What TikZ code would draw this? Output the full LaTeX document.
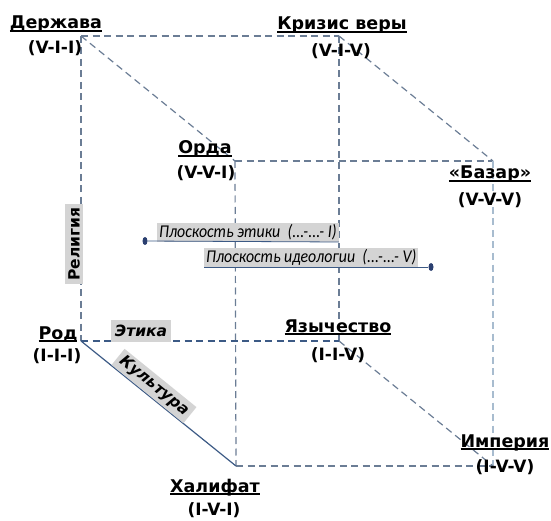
\documentclass[tikz,border=0pt]{standalone}
\usepackage{fontspec}
\usetikzlibrary{shapes.geometric}
\setmainfont{DejaVu Sans}
\newfontfamily\planefont[FakeStretch=0.88]{Carlito}
\newcommand\myul[1]{\setbox0\hbox{#1}\rlap{\rule[-2.8pt]{\wd0}{1.5pt}}\box0}
\definecolor{edgegray}{HTML}{6B7D95}
\definecolor{edgedark}{HTML}{3C5A85}
\definecolor{edgelight}{HTML}{A8BCCF}
\definecolor{boxgray}{HTML}{D4D4D4}
\definecolor{dotblue}{HTML}{2B3F70}
\begin{document}
\begin{tikzpicture}[x=1pt,y=-1pt,
  edge/.style={draw=edgegray,line width=1.2pt,dash pattern=on 7pt off 4.5pt},
  edgelt/.style={draw=edgelight,line width=1.1pt,dash pattern=on 7pt off 4.5pt},
  edgesolid/.style={draw=edgedark,line width=1.2pt},
  vtitle/.style={anchor=base,inner sep=0pt,font=\fontsize{17.5}{20}\selectfont\bfseries},
  vcode/.style={inner sep=0pt,font=\fontsize{17}{20}\selectfont\bfseries},
  tag/.style={fill=boxgray,inner xsep=4pt,inner ysep=3pt,font=\fontsize{15.5}{17}\selectfont\bfseries},
  planelabel/.style={fill=boxgray,inner xsep=2pt,inner ysep=1.5pt,anchor=south west,font=\fontsize{18}{20}\selectfont\planefont\itshape},
  plandot/.style={fill=dotblue,draw=none,ellipse,minimum width=5pt,minimum height=8pt,inner sep=0pt}]
\useasboundingbox (0,0) rectangle (551,521);
% cube vertices
\coordinate (D) at (81,36);
\coordinate (K) at (339,36);
\coordinate (O) at (235,161);
\coordinate (B) at (493,161);
\coordinate (R) at (81,341);
\coordinate (Ya) at (339,341);
\coordinate (H) at (236,466);
\coordinate (I) at (493,466);
% edges
\draw[edge] (D) -- (K);
\draw[edge] (D) -- (O);
\draw[edge] (K) -- (B);
\draw[edge] (O) -- (B);
\draw[edge] (K) -- (Ya);
\draw[edge] (O) -- (H);
\draw[edgelt] (B) -- (I);
\draw[edge] (Ya) -- (I);
\draw[edge] (H) -- (I);
\draw[edge] (D) -- (R);
\draw[edge,draw=edgedark] (R) -- (Ya);
\draw[edgesolid] (R) -- (H);
% axis tags
\node[tag,rotate=90] (rel) at (74,244) {Религия};
\node[tag,inner ysep=5pt,font=\fontsize{15.5}{17}\selectfont\bfseries\itshape] (eth) at (141,331) {Этика};
\node[tag,rotate=-39,font=\fontsize{15.5}{17}\selectfont\bfseries\itshape] (cul) at (154,386) {Культура};
% planes
\node[plandot] (p1) at (145,241) {};
\node[planelabel] (pl1) at (157,242) {Плоскость этики \ (...-...- I)};
\draw[edgedark,line width=0.8pt] (p1) -- (pl1.south east);
\node[plandot] (p2) at (431,267) {};
\node[planelabel] (pl2) at (204,267) {Плоскость идеологии \ (...-...- V)};
\draw[edgedark,line width=0.8pt] (pl2.south west) -- (p2);
% vertex labels
\node[vtitle] (tD) at (56,29) {\myul{Держава}};
\node[vcode] (cD) at (55,48) {(V-I-I)};
\node[vtitle] (tK) at (342,30) {\myul{Кризис веры}};
\node[vcode] (cK) at (341,51) {(V-I-V)};
\node[vtitle] (tO) at (205,154) {\myul{Орда}};
\node[vcode] (cO) at (206,173) {(V-V-I)};
\node[vtitle] (tB) at (490,179) {\myul{«Базар»}};
\node[vcode] (cB) at (490,200) {(V-V-V)};
\node[vtitle] (tR) at (58,339) {\myul{Род}};
\node[vcode] (cR) at (57,356) {(I-I-I)};
\node[vtitle] (tY) at (338,332) {\myul{Язычество}};
\node[vcode] (cY) at (338,355) {(I-I-V)};
\node[vtitle] (tI) at (505,447) {\myul{Империя}};
\node[vcode] (cI) at (505,467) {(I-V-V)};
\node[vtitle] (tH) at (215,492) {\myul{Халифат}};
\node[vcode] (cH) at (214,510) {(I-V-I)};
\end{tikzpicture}
\end{document}
